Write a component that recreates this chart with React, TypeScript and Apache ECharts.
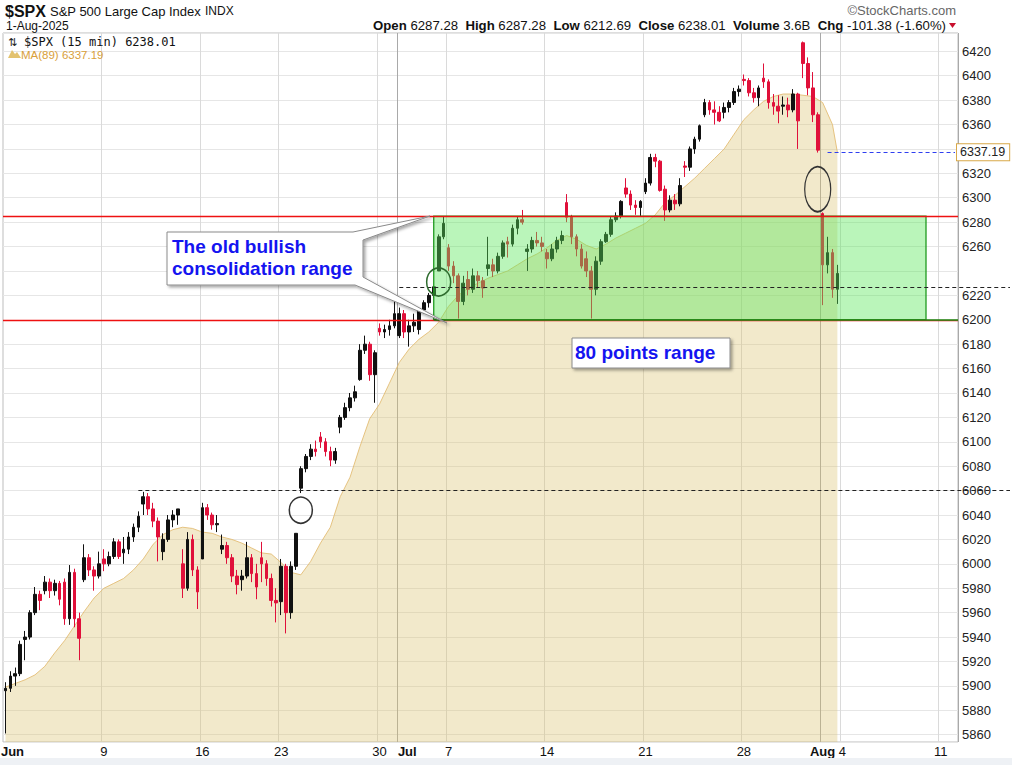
import React, { useEffect, useRef } from "react";
import * as echarts from "echarts";

// ---------- sessions (trading days) ----------
const monthNames = ["Jun", "Jul", "Aug"];
const monthIndex = [5, 6, 7];
const junSessions = [2, 3, 4, 5, 6, 9, 10, 11, 12, 13, 16, 17, 18, 20, 23, 24, 25, 26, 27, 30];
const julSessions = [1, 2, 3, 7, 8, 9, 10, 11, 14, 15, 16, 17, 18, 21, 22, 23, 24, 25, 28, 29, 30, 31];
const augSessions = [1];
const augFutureSessions = [4, 5, 6, 7, 8, 11];
const halfSessions = ["Jul 3"];
const BARS_PER_SESSION = 4;

// ---------- price bars (quarter-session OHLC) ----------
const barOpen = [
  5896, 5898, 5908, 5910, 5938, 5940, 5960, 5975, 5978, 5985, 5978, 5984, 5985, 5955, 5993, 5955,
  5987, 6005, 5995, 5990, 6004, 6000, 6006, 6018, 6009, 6012, 6022, 6030, 6049, 6055, 6045, 6035,
  6010, 6020, 6036, 6040, 6000, 5980, 6020, 5995, 6004, 6046, 6040, 6032, 6012, 6015, 6005, 5990,
  5987, 5990, 6005, 5992, 6005, 6000, 5988, 5970, 5969, 5998, 5960, 5998, 6062, 6078, 6088, 6094,
  6104, 6100, 6092, 6085, 6112, 6120, 6128, 6136, 6151, 6175, 6180, 6155, 6193, 6190, 6192, 6195,
  6187, 6205, 6190, 6195, 6192, 6208, 6214, 6220, 6240, 6268,
  6259, 6244, 6236, 6215, 6233, 6225, 6236, 6232, 6242, 6245, 6240, 6252, 6264, 6262, 6275, 6282,
  6256, 6258, 6265, 6263, 6255, 6250, 6258, 6265, 6296, 6284, 6268, 6258, 6250, 6240, 6225, 6248,
  6264, 6270, 6282, 6285, 6308, 6303, 6294, 6292, 6305, 6312, 6333, 6330, 6307, 6290, 6298, 6295,
  6326, 6325, 6340, 6348, 6368, 6378, 6372, 6370, 6370, 6374, 6378, 6387, 6397, 6396, 6386, 6382,
  6398, 6395, 6378, 6375, 6375, 6376, 6372, 6385, 6427, 6410, 6390, 6368, 6287, 6245, 6255, 6225,
];
const barHigh = [
  5903, 5912, 5915, 5937, 5945, 5962, 5981, 5978, 5990, 5988, 5987, 5986, 5988, 5999, 5996, 5960,
  6016, 6008, 5998, 6010, 6012, 6010, 6021, 6020, 6022, 6026, 6033, 6043, 6059, 6058, 6050, 6038,
  6025, 6040, 6044, 6045, 6012, 6026, 6024, 5998, 6050, 6049, 6042, 6040, 6024, 6018, 6008, 5995,
  5995, 6018, 6008, 6000, 6018, 6003, 5992, 5980, 6004, 6000, 6002, 6025, 6080, 6090, 6098, 6101,
  6108, 6103, 6096, 6095, 6122, 6132, 6140, 6146, 6180, 6187, 6182, 6175, 6197, 6196, 6200, 6216,
  6210, 6208, 6200, 6205, 6210, 6216, 6222, 6227, 6270, 6285,
  6262, 6248, 6238, 6236, 6240, 6242, 6240, 6235, 6268, 6250, 6255, 6265, 6268, 6278, 6285, 6290,
  6262, 6268, 6272, 6268, 6258, 6262, 6268, 6273, 6303, 6286, 6270, 6262, 6256, 6244, 6252, 6266,
  6272, 6285, 6288, 6298, 6316, 6306, 6298, 6298, 6316, 6336, 6336, 6331, 6310, 6302, 6303, 6316,
  6330, 6342, 6350, 6360, 6381, 6380, 6379, 6375, 6378, 6380, 6390, 6392, 6401, 6398, 6390, 6392,
  6410, 6397, 6385, 6384, 6383, 6382, 6389, 6386, 6428, 6415, 6403, 6370, 6288, 6268, 6258, 6245,
];
const barLow = [
  5861, 5895, 5900, 5908, 5921, 5938, 5958, 5962, 5975, 5972, 5974, 5966, 5950, 5950, 5948, 5921,
  5985, 5990, 5978, 5988, 5994, 5998, 6004, 6004, 6000, 6008, 6018, 6026, 6040, 6040, 6030, 6002,
  6003, 6018, 6030, 6032, 5972, 5978, 5990, 5963, 6004, 6036, 6028, 6026, 6008, 6000, 5985, 5975,
  5978, 5988, 5985, 5971, 5985, 5982, 5965, 5952, 5958, 5943, 5955, 5995, 6058, 6075, 6085, 6088,
  6095, 6088, 6080, 6082, 6107, 6118, 6125, 6133, 6150, 6172, 6150, 6132, 6187, 6185, 6187, 6193,
  6185, 6185, 6178, 6190, 6188, 6205, 6210, 6218, 6240, 6266,
  6240, 6230, 6201, 6212, 6220, 6222, 6226, 6218, 6236, 6235, 6238, 6250, 6251, 6260, 6270, 6278,
  6240, 6255, 6260, 6256, 6242, 6248, 6255, 6262, 6280, 6262, 6252, 6242, 6235, 6201, 6220, 6245,
  6263, 6268, 6280, 6283, 6300, 6290, 6286, 6285, 6303, 6310, 6325, 6305, 6281, 6288, 6290, 6293,
  6317, 6322, 6336, 6346, 6366, 6368, 6360, 6362, 6365, 6370, 6376, 6383, 6392, 6383, 6378, 6375,
  6390, 6373, 6368, 6361, 6368, 6366, 6370, 6340, 6398, 6384, 6362, 6337, 6212, 6238, 6218, 6213,
];
const barClose = [
  5898, 5908, 5910, 5934, 5940, 5960, 5975, 5970, 5985, 5978, 5984, 5971, 5955, 5993, 5955, 5939,
  6005, 5995, 5990, 6000, 6000, 6006, 6018, 6006, 6012, 6022, 6030, 6039, 6055, 6045, 6035, 6022,
  6020, 6036, 6040, 6045, 5980, 6020, 5995, 5977, 6046, 6040, 6032, 6033, 6015, 6005, 5990, 5983,
  5990, 6005, 5992, 5981, 6000, 5988, 5970, 5968, 5998, 5960, 5998, 6025, 6078, 6088, 6094, 6092,
  6100, 6092, 6085, 6092, 6120, 6128, 6136, 6141, 6175, 6180, 6155, 6173, 6190, 6192, 6195, 6205,
  6205, 6190, 6195, 6198, 6208, 6214, 6220, 6227, 6268, 6279,
  6244, 6236, 6215, 6230, 6225, 6236, 6232, 6226, 6245, 6240, 6252, 6263, 6262, 6275, 6282, 6280,
  6258, 6265, 6263, 6260, 6250, 6258, 6265, 6269, 6284, 6268, 6258, 6244, 6240, 6225, 6248, 6264,
  6270, 6282, 6285, 6297, 6303, 6294, 6292, 6297, 6312, 6333, 6330, 6306, 6290, 6298, 6295, 6310,
  6325, 6340, 6348, 6359, 6378, 6372, 6370, 6363, 6374, 6378, 6387, 6389, 6396, 6386, 6382, 6390,
  6395, 6378, 6375, 6371, 6376, 6372, 6385, 6363, 6410, 6390, 6368, 6339, 6245, 6255, 6225, 6238,
];

// ---------- MA(89), read every second bar ----------
const ma89EveryOtherBar = [
  5899, 5902, 5905, 5909, 5916, 5927, 5937, 5949, 5961, 5972,
  5980, 5984, 5988, 5995, 6004, 6016, 6024, 6028, 6030, 6029,
  6026, 6025, 6022, 6020, 6017, 6013, 6009, 6008, 6001, 5993,
  5991, 6002, 6017, 6030, 6055, 6071, 6096, 6119, 6131, 6148,
  6165, 6176, 6184, 6190, 6198, 6211, 6220, 6226, 6230, 6234,
  6237, 6240, 6245, 6250, 6254, 6259, 6265, 6269, 6266, 6261,
  6258, 6262, 6267, 6271, 6275, 6279, 6286, 6296, 6302, 6309,
  6316, 6324, 6332, 6340, 6352, 6364, 6372, 6379, 6383, 6385,
  6385, 6384, 6383, 6378, 6360,
];
const ma89Last = 6337.19;

// ---------- levels & annotations ----------
const rangeTop = 6285;
const rangeBottom = 6200;
const breakoutLevel = 6060;
const pivotLevel = 6227;
const lastClose = 6238.01;
const rangeBoxFromBar = 87;
const rangeBoxToBar = 187;
const breakoutLineFromBar = 27;
const pivotLineFromBar = 80;
const hiddenTickLabels = [6340, 6240]; // covered by the value boxes on the right
const circleMarks = [
  { bar: 60, value: 6044, w: 23, h: 26, color: "#333333" },
  { bar: 88, value: 6231, w: 24, h: 28, color: "#2d6b2d" },
  { bar: 165, value: 6307, w: 26, h: 45, color: "#333333" },
];
const header = {
  open: "6287.28", high: "6287.28", low: "6212.69", close: "6238.01",
  volume: "3.6B", chg: "-101.38 (-1.60%)",
};

const SANS = '"Liberation Sans", Arial, sans-serif';
const NARROW = '"Liberation Sans Narrow", "Arial Narrow", "Liberation Sans", sans-serif';

const GRID_LEFT = 3;
const GRID_TOP = 33;
const GRID_W = 955;
const GRID_H = 709;

function buildSlots() {
  const categories: string[] = [];
  const labels: Record<number, { text: string; month: boolean }> = {};
  const weekStart: Record<number, boolean> = {};
  const monthStart: Record<number, boolean> = {};
  const groups = [junSessions, julSessions, [...augSessions, ...augFutureSessions]];
  groups.forEach((days, gi) => {
    days.forEach((d, di) => {
      const name = `${monthNames[gi]} ${d}`;
      const n = halfSessions.includes(name) ? BARS_PER_SESSION / 2 : BARS_PER_SESSION;
      const first = categories.length;
      const isMonday = new Date(2025, monthIndex[gi], d).getDay() === 1;
      if (di === 0) {
        labels[first] = { text: monthNames[gi], month: true };
        if (first > 0) monthStart[first] = true;
      } else if (isMonday) {
        labels[first] = { text: String(d), month: false };
        weekStart[first] = true;
      }
      for (let k = 0; k < n; k++) categories.push(`${name} #${k}`);
    });
  });
  return { categories, labels, weekStart, monthStart };
}

function buildOption() {
  const { categories, labels, weekStart, monthStart } = buildSlots();
  const lastIdx = categories.length - 1;
  const candles = barOpen.map((o, i) => [o, barClose[i], barLow[i], barHigh[i]]);
  const maData: [number, number][] = ma89EveryOtherBar.map((v, k) => [k * 2, v]);
  maData.push([barClose.length - 1, ma89Last]);
  const rightX = GRID_LEFT + GRID_W;

  const baseX = {
    type: "category" as const,
    data: categories,
    boundaryGap: true,
    gridIndex: 0,
    axisLine: { show: false },
    axisTick: { show: false },
  };

  const headerRich =
    `{b|Open} ${header.open}  {b|High} ${header.high}  {b|Low} ${header.low}  ` +
    `{b|Close} ${header.close}  {b|Volume} ${header.volume}  {b|Chg} ${header.chg}`;

  return {
    animation: false,
    backgroundColor: "#ffffff",
    grid: {
      left: GRID_LEFT, top: GRID_TOP, width: GRID_W, height: GRID_H,
      containLabel: false,
      outerBoundsMode: "none",
      show: true, borderColor: "#bdbdbd", borderWidth: 1, backgroundColor: "#ffffff",
    },
    xAxis: [
      {
        ...baseX,
        position: "bottom",
        axisLabel: {
          interval: (idx: number) => labels[idx] !== undefined,
          formatter: (_v: string, idx: number) => {
            const l = labels[idx];
            if (!l) return "";
            if (l.month) {
              if (l.text === "Jul") return `{gap| }{m|${l.text}}`;
              if (idx === 0) return `{gapS| }{m|${l.text}}`;
              return `{m|${l.text}}`;
            }
            return `{n|${l.text}}`;
          },
          margin: 3,
          color: "#111",
          fontFamily: NARROW,
          fontSize: 13,
          rich: {
            m: { fontWeight: "bold", fontFamily: NARROW, fontSize: 13, color: "#111" },
            n: { fontFamily: NARROW, fontSize: 13, color: "#111" },
            gap: { width: 16 },
            gapS: { width: 14 },
          },
        },
        splitLine: {
          show: true,
          interval: (idx: number) => !!weekStart[idx],
          lineStyle: { color: "#dadada", width: 1 },
        },
      },
      {
        ...baseX,
        position: "top",
        axisLabel: { show: false },
        splitLine: {
          show: true,
          interval: (idx: number) => !!monthStart[idx],
          lineStyle: { color: "#a9a9a9", width: 1 },
        },
      },
    ],
    yAxis: {
      type: "value",
      position: "right",
      min: 5854,
      max: 6435,
      splitNumber: 29,
      axisLine: { show: false },
      axisTick: { show: false },
      axisLabel: {
        showMinLabel: false,
        showMaxLabel: false,
        margin: 4,
        color: "#222",
        fontFamily: SANS,
        fontSize: 13,
        formatter: (v: number) => (hiddenTickLabels.includes(Math.round(v)) ? "" : String(Math.round(v))),
      },
      splitLine: { show: true, lineStyle: { color: "#e6e6e6", width: 1 } },
    },
    series: [
      {
        name: "MA(89)",
        type: "line",
        data: maData,
        z: 1,
        silent: true,
        symbol: "none",
        showSymbol: false,
        lineStyle: { color: "rgba(226,186,110,0.85)", width: 1 },
        areaStyle: { color: "rgba(218,196,112,0.52)", origin: "start" },
      },
      {
        name: "$SPX",
        type: "candlestick",
        data: candles,
        z: 2,
        silent: true,
        barWidth: 3.2,
        itemStyle: {
          color: "#111111",
          color0: "#e0103a",
          borderColor: "#111111",
          borderColor0: "#e0103a",
          borderWidth: 1,
        },
      },
      {
        name: "annotations",
        type: "line",
        data: [],
        z: 3,
        clip: false,
        silent: true,
        markArea: {
          z: 3,
          silent: true,
          label: { show: false },
          itemStyle: { color: "rgba(90,230,90,0.42)", borderColor: "#1f9a1f", borderWidth: 1.3 },
          data: [[{ coord: [rangeBoxFromBar, rangeTop] }, { coord: [rangeBoxToBar, rangeBottom] }]],
        },
        markLine: {
          z: 4,
          silent: true,
          symbol: ["none", "none"],
          label: { show: false },
          data: [
            { yAxis: rangeTop, lineStyle: { color: "#ee1111", width: 1.3, type: "solid" } },
            { yAxis: rangeBottom, lineStyle: { color: "#ee1111", width: 1.3, type: "solid" } },
            [
              { coord: [rangeBoxFromBar, rangeBottom], lineStyle: { color: "#1a8f1a", width: 1.5, type: "solid" } },
              { coord: [lastIdx, rangeBottom], x: rightX },
            ],
            [
              { coord: [breakoutLineFromBar, breakoutLevel], lineStyle: { color: "#222", width: 1, type: [4, 3] } },
              { coord: [lastIdx, breakoutLevel], x: 1010 },
            ],
            [
              { coord: [pivotLineFromBar, pivotLevel], lineStyle: { color: "#222", width: 1, type: [4, 3] } },
              { coord: [lastIdx, pivotLevel], x: 1010 },
            ],
            [
              {
                coord: [barClose.length - 3, ma89Last],
                lineStyle: { color: "#2f3ff0", width: 1.2, type: [4, 3] },
                label: {
                  show: true, position: "end", distance: 2, formatter: "6337.19",
                  color: "#222", fontFamily: SANS, fontSize: 12.5,
                  backgroundColor: "#ffffff", borderColor: "#d8a848", borderWidth: 1,
                  padding: [2, 4, 1, 3],
                },
              },
              { coord: [lastIdx, ma89Last], x: rightX - 3 },
            ],
            [
              {
                coord: [lastIdx, lastClose], x: rightX - 6,
                lineStyle: { opacity: 0, width: 0 },
                label: {
                  show: true, position: "end", distance: 2, formatter: "6238.01",
                  color: "#111", fontFamily: SANS, fontSize: 12.5, fontWeight: "bold",
                  backgroundColor: "#ffffff", borderColor: "#111", borderWidth: 1.3,
                  padding: [2, 3, 1, 3],
                },
              },
              { coord: [lastIdx, lastClose], x: rightX - 3 },
            ],
          ],
        },
        markPoint: {
          z: 5,
          silent: true,
          symbol: "circle",
          label: { show: false },
          data: circleMarks.map((c) => ({
            coord: [c.bar, c.value],
            symbolSize: [c.w, c.h],
            itemStyle: { color: "rgba(0,0,0,0)", borderColor: c.color, borderWidth: 1.6 },
          })),
        },
      },
    ],
    graphic: {
      elements: [
        { type: "rect", z: 50, shape: { x: 0, y: 758, width: 1012, height: 7 }, style: { fill: "#eef1f5" } },
        { type: "text", z: 50, x: 5, y: 11, style: { text: "$SPX", font: `bold 16px ${SANS}`, fill: "#111", verticalAlign: "middle" } },
        { type: "text", z: 50, x: 50, y: 11, style: { text: "S&P 500 Large Cap Index", font: `13px ${SANS}`, fill: "#111", verticalAlign: "middle" } },
        { type: "text", z: 50, x: 205, y: 11, style: { text: "INDX", font: `12px ${SANS}`, fill: "#111", verticalAlign: "middle" } },
        { type: "text", z: 50, x: 6, y: 26, style: { text: "1-Aug-2025", font: `12px ${SANS}`, fill: "#111", verticalAlign: "middle" } },
        {
          type: "text", z: 50, x: 946, y: 25.5,
          style: {
            text: headerRich, font: `13.2px ${SANS}`, fill: "#111", align: "right", verticalAlign: "middle",
            rich: { b: { font: `bold 13.2px ${SANS}`, fill: "#111" } },
          },
        },
        { type: "polygon", z: 50, shape: { points: [[949, 23], [956, 23], [952.5, 28]] }, style: { fill: "#c8102e" } },
        { type: "text", z: 50, x: 956, y: 10, style: { text: "©StockCharts.com", font: `13px ${SANS}`, fill: "#666", align: "right", verticalAlign: "middle" } },
        { type: "text", z: 50, x: 8, y: 42, style: { text: "⇅", font: `11px "DejaVu Sans", sans-serif`, fill: "#222", verticalAlign: "middle" } },
        { type: "text", z: 50, x: 24, y: 42, style: { text: "$SPX (15 min) 6238.01", font: `12px "DejaVu Sans Mono", monospace`, fill: "#111", verticalAlign: "middle" } },
        { type: "polygon", z: 50, shape: { points: [[8, 58], [12, 50], [15, 54], [17, 52], [21, 58]] }, style: { fill: "#e3c26e" } },
        { type: "text", z: 50, x: 21, y: 55, style: { text: "MA(89) 6337.19", font: `11.5px ${SANS}`, fill: "#d9a03a", verticalAlign: "middle" } },
        {
          type: "polygon", z: 60,
          shape: { points: [[167, 232], [353, 232], [430, 216], [363, 240], [363, 277], [447, 323], [355, 285], [167, 285]] },
          style: {
            fill: "#ffffff", stroke: "#8a8a8a", lineWidth: 1,
            shadowBlur: 3, shadowColor: "rgba(0,0,0,0.35)", shadowOffsetX: 2, shadowOffsetY: 2,
          },
        },
        { type: "text", z: 61, x: 172, y: 246.5, style: { text: "The old bullish", font: `bold 19px ${SANS}`, fill: "#1414f0", verticalAlign: "middle" } },
        { type: "text", z: 61, x: 172, y: 268, style: { text: "consolidation range", font: `bold 19px ${SANS}`, fill: "#1414f0", verticalAlign: "middle" } },
        {
          type: "rect", z: 60, shape: { x: 572, y: 338, width: 158, height: 30 },
          style: {
            fill: "#ffffff", stroke: "#8a8a8a", lineWidth: 1,
            shadowBlur: 3, shadowColor: "rgba(0,0,0,0.35)", shadowOffsetX: 2, shadowOffsetY: 2,
          },
        },
        { type: "text", z: 61, x: 575, y: 352.5, style: { text: "80 points range", font: `bold 19px ${SANS}`, fill: "#1414f0", verticalAlign: "middle" } },
      ],
    },
  };
}

export default function App() {
  const ref = useRef<HTMLDivElement>(null);
  useEffect(() => {
    document.body.style.margin = "0";
    const chart = echarts.init(ref.current as HTMLDivElement, null, { renderer: "svg", width: 1012, height: 765 });
    chart.setOption(buildOption() as any);
    return () => chart.dispose();
  }, []);
  return <div ref={ref} style={{ width: 1012, height: 765 }} />;
}
